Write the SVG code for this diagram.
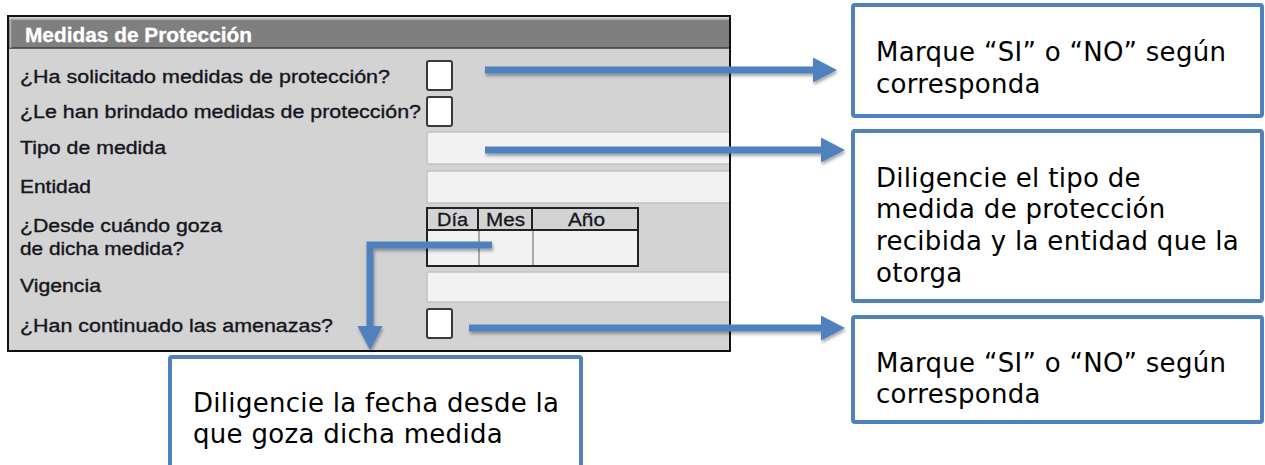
<svg xmlns="http://www.w3.org/2000/svg" width="1265" height="465" viewBox="0 0 1265 465">
<style>
.lbl{font-family:"Liberation Sans",Arial,sans-serif;font-size:18px;fill:#151520;stroke:#151520;stroke-width:0.35}
.hdr{font-family:"Liberation Sans",Arial,sans-serif;font-size:19.5px;font-weight:bold;fill:#ffffff;stroke:#ffffff;stroke-width:0.3}
.dt{font-family:"Liberation Sans",Arial,sans-serif;font-size:18px;fill:#151520;stroke:#151520;stroke-width:0.3;text-anchor:middle}
.chk{fill:#ffffff;stroke:#3a3a3a;stroke-width:2}
.inp{fill:#f2f2f2;stroke:#c2c2c2;stroke-width:1.5}
.note{fill:#ffffff;stroke:#4f81bd;stroke-width:4}
.nt{font-family:"DejaVu Sans",Verdana,sans-serif;font-size:26px;fill:#000000;letter-spacing:0.3px}
.arr{fill:none;stroke:#4f81bd;stroke-width:7}
</style>
<defs>
<marker id="ah" markerUnits="userSpaceOnUse" markerWidth="26" markerHeight="26" refX="2" refY="12.5" orient="auto" viewBox="0 0 26 26">
<path d="M0,0 L24,12.5 L0,25 z" fill="#4f81bd"/>
</marker>
<filter id="sh" x="-10%" y="-50%" width="120%" height="200%">
<feDropShadow dx="1" dy="2.5" stdDeviation="1.5" flood-color="#000" flood-opacity="0.35"/>
</filter>
</defs>
<g id="panel">
<rect x="8" y="16" width="722" height="335" fill="#d3d3d3"/>
<rect x="9" y="19" width="720" height="29" fill="#7f7f7f"/>
<line x1="9" y1="19" x2="729" y2="19" stroke="#b8b8b8" stroke-width="1.5"/>
<line x1="9" y1="48" x2="729" y2="48" stroke="#3c3c3c" stroke-width="1.5"/>
<line x1="10.5" y1="19" x2="10.5" y2="48" stroke="#b0b0b0" stroke-width="1.5"/>
<text class="hdr" x="25" y="42" textLength="227" lengthAdjust="spacingAndGlyphs">Medidas de Protección</text>
<text class="lbl" x="20" y="83" textLength="370" lengthAdjust="spacingAndGlyphs">¿Ha solicitado medidas de protección?</text>
<text class="lbl" x="20" y="118" textLength="401" lengthAdjust="spacingAndGlyphs">¿Le han brindado medidas de protección?</text>
<text class="lbl" x="20" y="154" textLength="146" lengthAdjust="spacingAndGlyphs">Tipo de medida</text>
<text class="lbl" x="20" y="193" textLength="71" lengthAdjust="spacingAndGlyphs">Entidad</text>
<text class="lbl" x="20" y="232" textLength="202" lengthAdjust="spacingAndGlyphs">¿Desde cuándo goza</text>
<text class="lbl" x="20" y="255" textLength="164" lengthAdjust="spacingAndGlyphs">de dicha medida?</text>
<text class="lbl" x="20" y="292" textLength="81" lengthAdjust="spacingAndGlyphs">Vigencia</text>
<text class="lbl" x="20" y="332" textLength="313" lengthAdjust="spacingAndGlyphs">¿Han continuado las amenazas?</text>
<rect class="chk" x="427" y="61" width="25" height="29" rx="2"/>
<rect class="chk" x="427" y="97" width="25" height="29" rx="2"/>
<rect class="inp" x="427" y="132" width="303" height="32" rx="2"/>
<rect class="inp" x="427" y="171" width="303" height="32" rx="2"/>
<rect class="inp" x="427" y="272" width="303" height="30" rx="2"/>
<rect class="chk" x="427" y="309" width="25" height="29" rx="2"/>
<g id="date-table">
<rect x="427" y="231" width="211" height="35" fill="#f2f2f2"/>
<line x1="479" y1="231" x2="479" y2="266" stroke="#a8a8a8" stroke-width="2"/>
<line x1="533" y1="231" x2="533" y2="266" stroke="#a8a8a8" stroke-width="2"/>
<rect x="427" y="208" width="211" height="58" fill="none" stroke="#222" stroke-width="2"/>
<line x1="427" y1="230" x2="638" y2="230" stroke="#222" stroke-width="2"/>
<line x1="478" y1="208" x2="478" y2="230" stroke="#222" stroke-width="2"/>
<line x1="532" y1="208" x2="532" y2="230" stroke="#222" stroke-width="2"/>
<text class="dt" x="452.5" y="226" textLength="31" lengthAdjust="spacingAndGlyphs">Día</text>
<text class="dt" x="505.5" y="226" textLength="39" lengthAdjust="spacingAndGlyphs">Mes</text>
<text class="dt" x="586.5" y="226" textLength="37" lengthAdjust="spacingAndGlyphs">Año</text>
</g>
<rect x="8" y="16" width="722" height="335" fill="none" stroke="#111" stroke-width="2"/>
</g>
<g id="connectors" filter="url(#sh)">
<line class="arr" x1="485" y1="70" x2="815" y2="70" marker-end="url(#ah)"/>
<line class="arr" x1="485" y1="150" x2="823" y2="150" marker-end="url(#ah)"/>
<line class="arr" x1="469" y1="328" x2="823" y2="328" marker-end="url(#ah)"/>
<path class="arr" d="M492,245 H370 V328" marker-end="url(#ah)"/>
</g>
<g id="note1">
<rect class="note" x="853" y="5" width="409" height="111" rx="2"/>
<text class="nt" x="876" y="61">Marque “SI” o “NO” según</text>
<text class="nt" x="876" y="93">corresponda</text>
</g>
<g id="note2">
<rect class="note" x="853" y="131" width="409" height="170" rx="2"/>
<text class="nt" x="876" y="187">Diligencie el tipo de</text>
<text class="nt" x="876" y="218">medida de protección</text>
<text class="nt" x="876" y="250">recibida y la entidad que la</text>
<text class="nt" x="876" y="282">otorga</text>
</g>
<g id="note3">
<rect class="note" x="853" y="317" width="409" height="105" rx="2"/>
<text class="nt" x="876" y="372">Marque “SI” o “NO” según</text>
<text class="nt" x="876" y="403">corresponda</text>
</g>
<g id="note4">
<rect class="note" x="170" y="357" width="411" height="120" rx="2"/>
<text class="nt" x="193" y="412">Diligencie la fecha desde la</text>
<text class="nt" x="193" y="443">que goza dicha medida</text>
</g>
</svg>
